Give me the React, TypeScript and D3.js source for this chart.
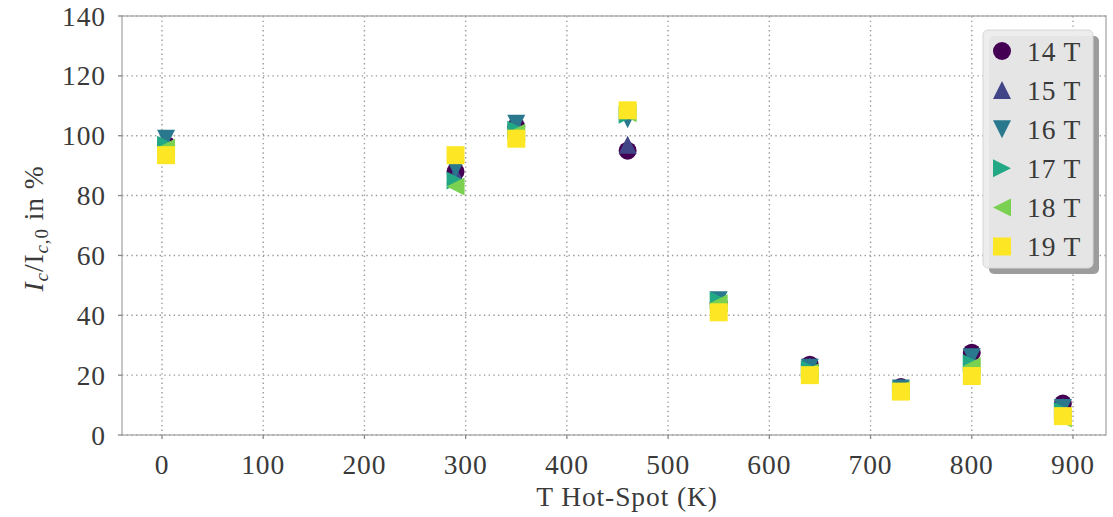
import React from 'react'
import * as d3 from 'd3'

// hot-spot temperature (K)
const temps = [4, 290, 350, 460, 550, 640, 730, 800, 890]
// Ic / Ic,0 in % per field
const t14 = [97, 88, 103, 95, 44, 23.5, 16, 27.5, 10.5]
const t15 = [98, 87, 104, 97, 44, 23, 16, 25, 9.5]
const t16 = [99, 89, 104, 105.5, 45, 22.5, 15.5, 26, 9]
const t17 = [97, 85, 102, 107, 45, 22, 15, 24, 8]
const t18 = [96, 83, 101, 107.5, 44, 21, 15, 23, 5.5]
const t19 = [93.5, 93.5, 99, 108.5, 41, 20, 14.5, 19.7, 6.3]

const seriesNames = ['14 T', '15 T', '16 T', '17 T', '18 T', '19 T']
const seriesValues = [t14, t15, t16, t17, t18, t19]
const xTicks = [0, 100, 200, 300, 400, 500, 600, 700, 800, 900]
const yTicks = [0, 20, 40, 60, 80, 100, 120, 140]

const colors = ['#440154', '#414487', '#2a788e', '#22a884', '#7ad151', '#fde725']

// matplotlib-like markers: same bounding box for all
const tri = (angle: number) => ({
  draw(ctx: any, size: number) {
    const r = Math.sqrt(size) / 2
    const pts = [[0, -r], [-r, r], [r, r]].map(([x, y]) => {
      const c = Math.cos(angle), s = Math.sin(angle)
      return [x * c - y * s, x * s + y * c]
    })
    ctx.moveTo(pts[0][0], pts[0][1])
    ctx.lineTo(pts[1][0], pts[1][1])
    ctx.lineTo(pts[2][0], pts[2][1])
    ctx.closePath()
  },
})
const circle = {
  draw(ctx: any, size: number) {
    const r = Math.sqrt(size) / 2
    ctx.moveTo(r, 0)
    ctx.arc(0, 0, r, 0, 2 * Math.PI)
  },
}
const square = {
  draw(ctx: any, size: number) {
    const r = Math.sqrt(size) / 2
    ctx.rect(-r, -r, 2 * r, 2 * r)
  },
}
const shapes = [circle, tri(0), tri(Math.PI), tri(Math.PI / 2), tri(-Math.PI / 2), square]

const W = 1113
const H = 517
const left = 122
const right = 1106
const top = 16
const bottom = 435
const fontFamily = '"Liberation Serif", "DejaVu Serif", serif'
const textColor = '#3a3a3a'
const fs = 27.5
const ls = 0.9

const App = () => {
  const x = d3.scaleLinear().domain([-39.5, 932.6]).range([left, right])
  const y = d3.scaleLinear().domain([0, 140]).range([bottom, top])
  const ms = 18
  const sym = (i: number) => d3.symbol().type(shapes[i] as any).size(ms * ms)()

  const legX = 983
  const legY = 30
  const legW = 110
  const legH = 238
  const rowH = 39.1

  return (
    <svg width={W} height={H} style={{ position: 'absolute', left: 0, top: 0 }}>
      <rect width={W} height={H} fill="#fff" />
      {/* grid */}
      <g stroke="#9a9a9a" strokeWidth={1.4} strokeDasharray="1.4 3.3">
        {xTicks.map(t => (
          <line key={'gx' + t} x1={x(t)} x2={x(t)} y1={top} y2={bottom} />
        ))}
        {yTicks.map(t => (
          <line key={'gy' + t} x1={left} x2={right} y1={y(t)} y2={y(t)} />
        ))}
      </g>
      {/* frame */}
      <rect x={left} y={top} width={right - left} height={bottom - top} fill="none" stroke="#a8a8a8" strokeWidth={1.3} />
      {/* ticks */}
      <g stroke="#888" strokeWidth={1.3}>
        {xTicks.map(t => (
          <line key={'tx' + t} x1={x(t)} x2={x(t)} y1={bottom} y2={bottom + 4} />
        ))}
        {yTicks.map(t => (
          <line key={'ty' + t} x1={left - 4} x2={left} y1={y(t)} y2={y(t)} />
        ))}
      </g>
      <g fontFamily={fontFamily} fontSize={fs} fill={textColor} letterSpacing={ls}>
        {xTicks.map(t => (
          <text key={'lx' + t} x={x(t)} y={bottom + 39} textAnchor="middle">
            {t}
          </text>
        ))}
        {yTicks.map(t => (
          <text key={'ly' + t} x={left - 16} y={y(t) + 9.5} textAnchor="end">
            {t}
          </text>
        ))}
        <text x={627} y={506} textAnchor="middle">
          T Hot-Spot (K)
        </text>
        <text transform={`translate(43, ${(top + bottom) / 2 + 3}) rotate(-90)`} textAnchor="middle">
          <tspan fontStyle="italic">I</tspan>
          <tspan fontStyle="italic" fontSize={19} dy={5}>c</tspan>
          <tspan dy={-5}>/I</tspan>
          <tspan fontSize={19} dy={5}><tspan fontStyle="italic">c</tspan>,0</tspan>
          <tspan dy={-5}> in %</tspan>
        </text>
      </g>
      {/* points */}
      {seriesValues.map((vals, i) => (
        <g key={seriesNames[i]} fill={colors[i]}>
          {vals.map((v, j) => (
            <path key={j} d={sym(i) || ''} transform={`translate(${x(temps[j])},${y(v)})`} />
          ))}
        </g>
      ))}
      {/* legend */}
      <rect x={legX + 6} y={legY + 6} width={legW} height={legH} rx={5} fill="#9c9c9c" />
      <rect x={legX} y={legY} width={legW} height={legH} rx={5} fill="#ebebeb" fillOpacity={0.92} stroke="#d6d6d6" strokeWidth={1} />
      {seriesNames.map((name, i) => (
        <g key={'leg' + name} transform={`translate(${legX + 19}, ${legY + 21 + i * rowH})`}>
          <path d={sym(i) || ''} fill={colors[i]} />
          <text x={25} y={9.5} fontFamily={fontFamily} fontSize={fs} fill={textColor} letterSpacing={ls}>
            {name}
          </text>
        </g>
      ))}
    </svg>
  )
}

export default App
